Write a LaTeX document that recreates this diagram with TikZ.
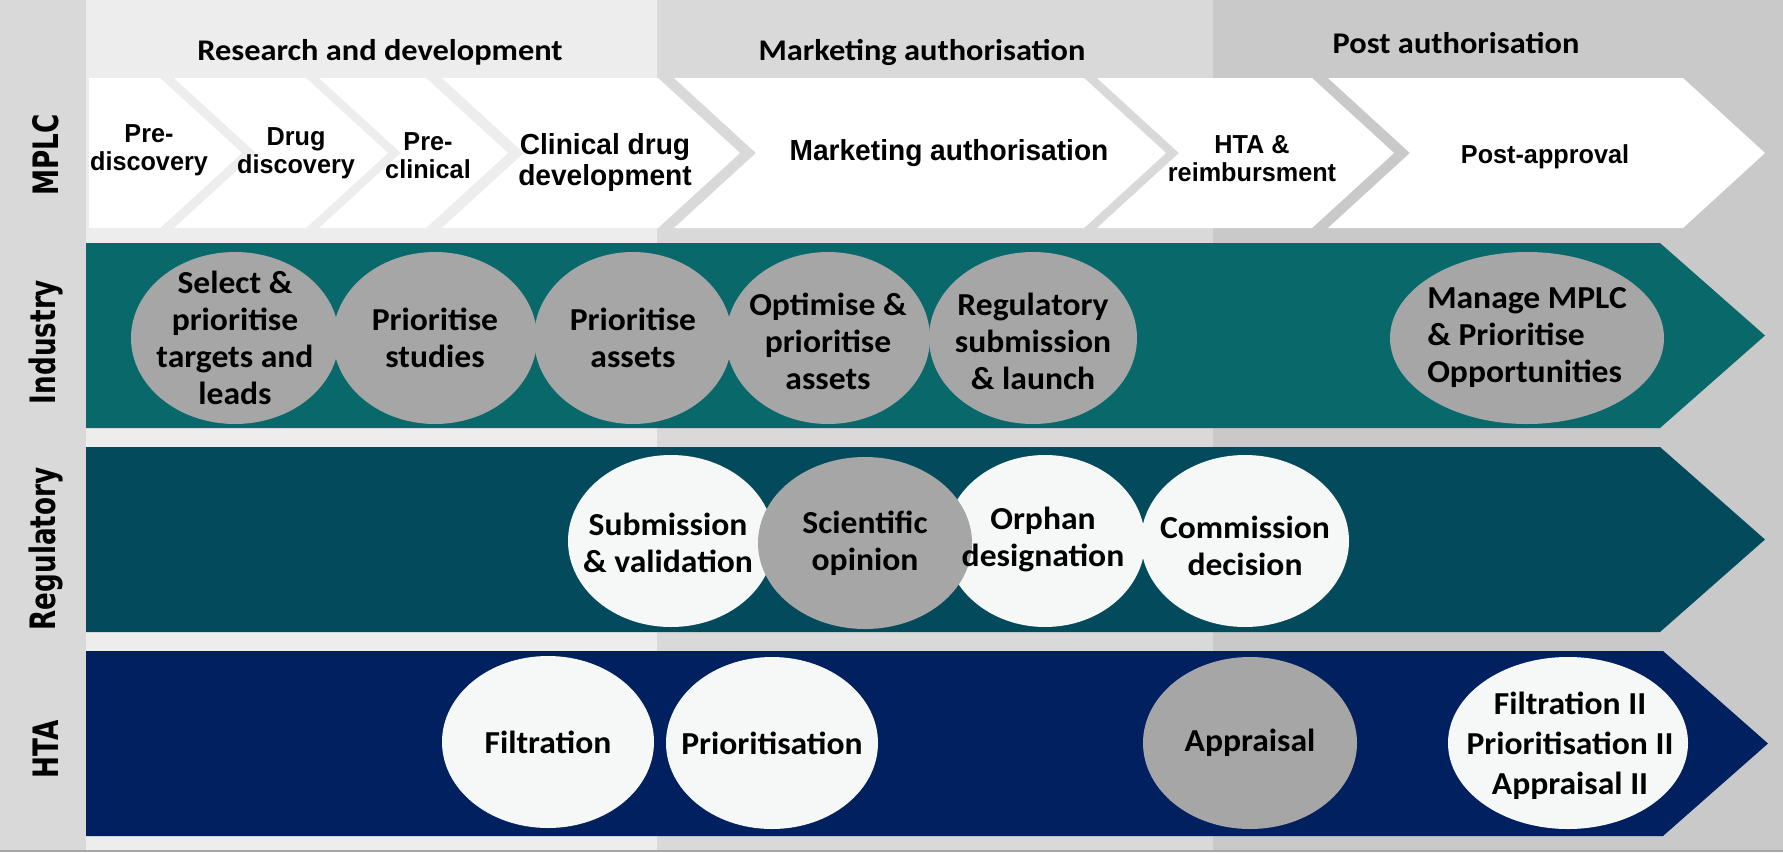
\documentclass[tikz,border=0pt]{standalone}
\usepackage{fontspec}
\usetikzlibrary{shapes.geometric}
\newfontfamily\calfont[FakeStretch=1.05]{Carlito}
\newfontfamily\hdrfont[FakeStretch=1.08]{Carlito}
\newfontfamily\arfont[FakeStretch=0.97]{Liberation Sans}
\newfontfamily\labfont[FakeStretch=0.75]{DejaVu Sans}
\definecolor{bgRD}{HTML}{EDEDED}
\definecolor{bgMA}{HTML}{D9D9D9}
\definecolor{bgPA}{HTML}{C9C9C9}
\definecolor{colInd}{HTML}{08686A}
\definecolor{colReg}{HTML}{034B5C}
\definecolor{colHTA}{HTML}{012060}
\definecolor{ellGray}{HTML}{A6A6A6}
\definecolor{ellWhite}{HTML}{F6F8F8}
\newcommand\mychev[2]{\fill[chevfill] (#1,78) -- (#2,78) -- ({#2+82},153) -- (#2,228) -- (#1,228) -- ({#1+82},153) -- cycle;}
\begin{document}
\begin{tikzpicture}[x=1pt,y=-1pt,
  chevfill/.style={fill=white},
  hdr/.style={inner sep=0, font=\hdrfont\bfseries\fontsize{30}{34}\selectfont},
  lab/.style={inner sep=0, rotate=90, font=\labfont\bfseries\fontsize{35}{38}\selectfont},
  chevtxt/.style={inner sep=0, align=center, font=\arfont\bfseries\fontsize{26}{28}\selectfont},
  chevbig/.style={inner sep=0, align=center, font=\arfont\bfseries\fontsize{29}{31}\selectfont},
  ellbase/.style={ellipse, inner sep=0, minimum height=172pt},
  ellg/.style={ellbase, fill=ellGray},
  ellw/.style={ellbase, fill=ellWhite},
  etxt/.style={inner sep=0, align=center, font=\calfont\bfseries\fontsize{32}{37}\selectfont}]
\useasboundingbox (0,0) rectangle (1783,852);
% backgrounds
\fill[bgMA] (0,0) rectangle (86,852);
\fill[bgRD] (86,0) rectangle (657,852);
\fill[bgMA] (657,0) rectangle (1213,852);
\fill[bgPA] (1213,0) rectangle (1783,852);
\draw[gray!70, line width=2pt] (0,851) -- (1783,851);
% headers
\node[hdr] (hRD) at (380,52) {Research and development};
\node[hdr] (hMA) at (922,52) {Marketing authorisation};
\node[hdr] (hPA) at (1456,43) {Post authorisation};
% row labels
\node[lab] (lMPLC) at (46,155) {MPLC};
\node[lab] (lInd) at (46,342) {Industry};
\node[lab] (lReg) at (46,549) {Regulatory};
\node[lab] (lHTA) at (46,749) {HTA};
% MPLC chevrons
\fill[chevfill] (89,78) -- (160,78) -- (242,153) -- (160,228) -- (89,228) -- cycle;
\mychev{174}{306}
\mychev{319}{426}
\mychev{442}{658}
\mychev{674}{1084}
\mychev{1097}{1312}
\mychev{1328}{1683}
\node[chevtxt] (c1) at (149,150) {Pre-\\discovery};
\node[chevtxt] (c2) at (296,153) {Drug\\discovery};
\node[chevtxt] (c3) at (428,156) {Pre-\\clinical};
\node[chevbig] (c4) at (605,162) {Clinical drug\\development};
\node[chevbig] (c5) at (949,153) {Marketing authorisation};
\node[chevtxt] (c6) at (1252,159) {HTA \&\\reimbursment};
\node[chevtxt] (c7) at (1545,157) {Post-approval};
% bands
\fill[colInd] (86,243) -- (1660,243) -- (1765,335.5) -- (1660,428) -- (86,428) -- cycle;
\fill[colReg] (86,447) -- (1660,447) -- (1765,539.5) -- (1660,632) -- (86,632) -- cycle;
\fill[colHTA] (86,651) -- (1663,651) -- (1768,743.5) -- (1663,836) -- (86,836) -- cycle;
% industry ellipses
\node[ellg, minimum width=208pt] (i1) at (235,338) {};
\node[ellg, minimum width=204pt] (i2) at (435,338) {};
\node[ellg, minimum width=198pt] (i3) at (633,338) {};
\node[ellg, minimum width=204pt] (i4) at (828,338) {};
\node[ellg, minimum width=208pt] (i5) at (1033,338) {};
\node[ellg, minimum width=274pt] (i6) at (1527,338) {};
\node[etxt] (i1t) at (i1) {Select \&\\prioritise\\targets and\\leads};
\node[etxt] (i2t) at (i2) {Prioritise\\studies};
\node[etxt] (i3t) at (i3) {Prioritise\\assets};
\node[etxt] (i4t) at (828,341) {Optimise \&\\prioritise\\assets};
\node[etxt] (i5t) at (1033,341) {Regulatory\\submission\\\& launch};
\node[etxt, align=left] (i6t) at (i6) {Manage MPLC\\\& Prioritise\\Opportunities};
% regulatory ellipses
\node[ellw, minimum width=206pt] (r1) at (671,541) {};
\node[ellw, minimum width=200pt] (r3) at (1045,541) {};
\node[ellw, minimum width=208pt] (r4) at (1245,541) {};
\node[ellg, minimum width=214pt] (r2) at (865,543) {};
\node[etxt] (r1t) at (668,543) {Submission\\\& validation};
\node[etxt] (r2t) at (865,543) {Scientific\\opinion};
\node[etxt] (r3t) at (1043,539) {Orphan\\designation};
\node[etxt] (r4t) at (1245,546) {Commission\\decision};
% HTA ellipses
\node[ellw, minimum width=212pt] (h1) at (548,742) {};
\node[ellw, minimum width=212pt] (h2) at (772,743) {};
\node[ellg, minimum width=214pt] (h3) at (1250,743) {};
\node[ellw, minimum width=240pt] (h4) at (1568,743) {};
\node[etxt] (h1t) at (h1) {Filtration};
\node[etxt] (h2t) at (h2) {Prioritisation};
\node[etxt] (h3t) at (h3) {Appraisal};
\node[etxt, font=\calfont\bfseries\fontsize{32}{40}\selectfont] (h4t) at (1570,746) {Filtration II\\Prioritisation II\\Appraisal II};
\end{tikzpicture}
\end{document}
